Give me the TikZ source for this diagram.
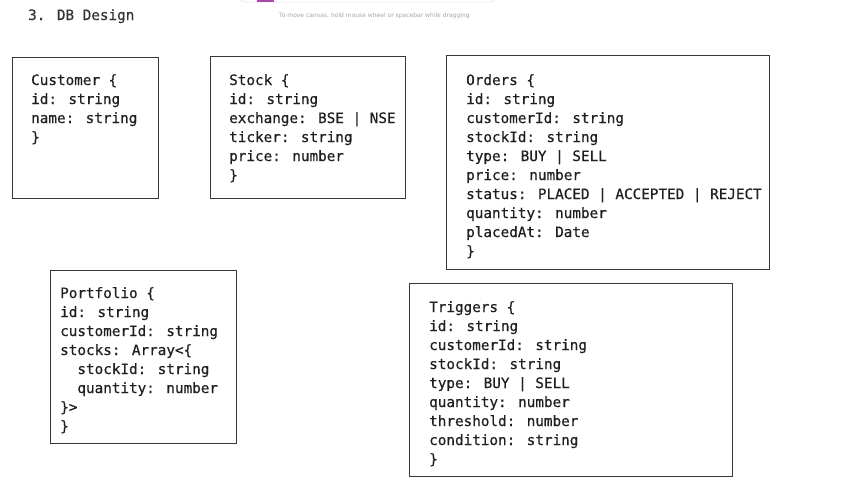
\documentclass[tikz,border=0pt]{standalone}
\usepackage{fontspec}
\setmonofont{DejaVu Sans Mono}
\newfontfamily\codefont{DejaVu Sans Mono}[FakeBold=0.5]
\setsansfont{DejaVu Sans}
\begin{document}
\begin{tikzpicture}[x=1pt,y=-1pt,
  tbl/.style={draw=black!78, line width=1.1pt, inner sep=0pt, anchor=north west},
  code/.style={anchor=base west, inner sep=0pt, align=left, text=black!88,
     font=\codefont\fontsize{14.3}{19}\selectfont},
]
\useasboundingbox[fill=white] (0,0) rectangle (853,501);
% faint canvas toolbar remnant
\draw[black!8, line width=0.8pt, rounded corners=4pt] (240,-10) -- (240,2) -- (495,2) -- (495,-10);
\fill[violet!70] (257,-2) rectangle (274,1.5) coordinate (tb);
\node[anchor=base west, inner sep=0pt, text=black!35, font=\sffamily\fontsize{6}{7}\selectfont] (hint) at (279,17) {To move canvas, hold mouse wheel or spacebar while dragging};
\node[code, text=black!80] (title) at (28,20) {3. DB Design};

% boxes
\node[tbl, minimum width=146pt, minimum height=141pt] (customer) at (12,57) {};
\node[tbl, minimum width=195pt, minimum height=142pt] (stock) at (210,56) {};
\node[tbl, minimum width=323pt, minimum height=214pt] (orders) at (446,55) {};
\node[tbl, minimum width=186pt, minimum height=173pt] (portfolio) at (50,270) {};
\node[tbl, minimum width=323pt, minimum height=193pt] (triggers) at (409,283) {};

% texts (anchor at baseline of last line)
\node[code] (customertext) at (31,142) {Customer \{\\id: string\\name: string\\\}};
\node[code] (stocktext) at (229,180) {Stock \{\\id: string\\exchange: BSE | NSE\\ticker: string\\price: number\\\}};
\node[code] (orderstext) at (466,256) {Orders \{\\id: string\\customerId: string\\stockId: string\\type: BUY | SELL\\price: number\\status: PLACED | ACCEPTED | REJECT\\quantity: number\\placedAt: Date\\\}};
\node[code] (portfoliotext) at (60,431) {Portfolio \{\\id: string\\customerId: string\\stocks: Array<\{\\\ \ stockId: string\\\ \ quantity: number\\\}>\\\}};
\node[code] (triggerstext) at (429,464) {Triggers \{\\id: string\\customerId: string\\stockId: string\\type: BUY | SELL\\quantity: number\\threshold: number\\condition: string\\\}};
\end{tikzpicture}
\end{document}
